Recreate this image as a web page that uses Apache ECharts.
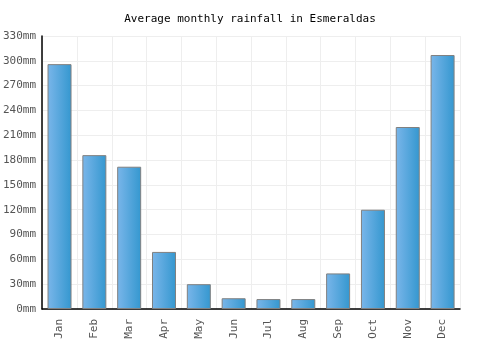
<!DOCTYPE html>
<html>
<head>
<meta charset="utf-8">
<script src="https://cdn.jsdelivr.net/npm/echarts@6/dist/echarts.min.js"></script>
<style>
  html, body { margin: 0; padding: 0; background: #fff; }
  #main { width: 500px; height: 350px; }
</style>
</head>
<body>
<div id="main"></div>
<script>
// data
var months = ["Jan", "Feb", "Mar", "Apr", "May", "Jun", "Jul", "Aug", "Sep", "Oct", "Nov", "Dec"];
var rainfall = [296, 186, 172, 69, 30, 13, 12, 12, 43, 120, 220, 307];

var chart = echarts.init(document.getElementById("main"));

var option = {
  animation: false,
  title: {
    text: "Average monthly rainfall in Esmeraldas",
    left: "center",
    top: 9,
    textStyle: { fontFamily: "DejaVu Sans Mono", fontSize: 11, fontWeight: "normal", color: "#000" }
  },
  grid: { left: 41, right: 40, top: 36, bottom: 41 },
  xAxis: {
    type: "category",
    data: months,
    axisLine: { lineStyle: { color: "#000", width: 1.5 } },
    axisTick: { show: false },
    axisLabel: { rotate: 90, color: "#555", fontFamily: "DejaVu Sans Mono", fontSize: 11, margin: 10 },
    splitLine: { show: true, lineStyle: { color: "#eee" } }
  },
  yAxis: {
    type: "value",
    min: 0,
    max: 330,
    interval: 30,
    axisLine: { show: true, lineStyle: { color: "#000", width: 1.5 } },
    axisTick: { show: false },
    axisLabel: { formatter: "{value}mm", color: "#555", fontFamily: "DejaVu Sans Mono", fontSize: 11, margin: 6 },
    splitLine: { lineStyle: { color: "#eee" } }
  },
  series: [{
    type: "bar",
    data: rainfall,
    barWidth: 24,
    itemStyle: {
      borderColor: "#808080",
      borderWidth: 1,
      color: new echarts.graphic.LinearGradient(0, 0, 1, 0, [
        { offset: 0, color: "#7ab6ea" },
        { offset: 1, color: "#3497cf" }
      ])
    }
  }]
};

chart.setOption(option);
</script>
</body>
</html>
